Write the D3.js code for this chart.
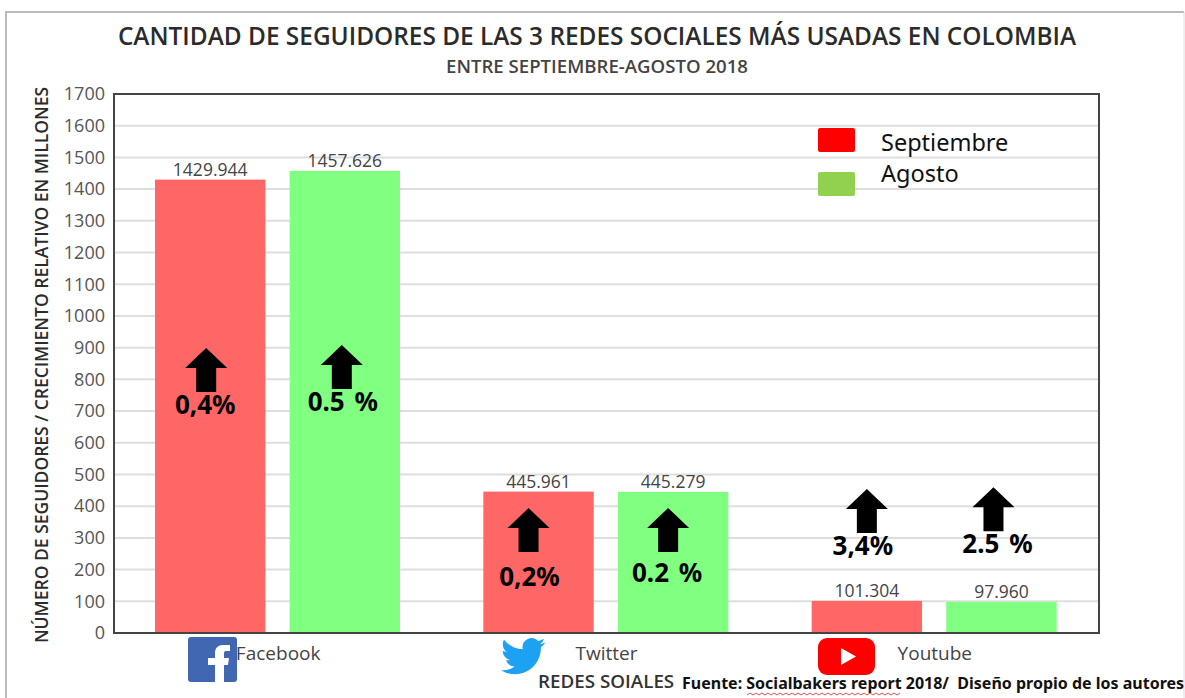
<!DOCTYPE html>
<html>
<head>
<meta charset="utf-8">
<script src="https://cdn.jsdelivr.net/npm/d3@7"></script>
<style>
  html, body { margin: 0; padding: 0; background: #fff; }
  svg { display: block; }
</style>
</head>
<body>
<div id="chart"></div>
<script>
// Data
var categories = ["Facebook", "Twitter", "Youtube"];
var seriesNames = ["Septiembre", "Agosto"];
var septiembre = [1429.944, 445.961, 101.304];
var agosto = [1457.626, 445.279, 97.96];
var septiembreLabels = ["1429.944", "445.961", "101.304"];
var agostoLabels = ["1457.626", "445.279", "97.960"];
var septiembreGrowth = ["0,4%", "0,2%", "3,4%"];
var agostoGrowth = ["0.5 %", "0.2 %", "2.5 %"];
// arrow tip, on the value axis
var septiembreArrowTip = [899, 394, 454];
var agostoArrowTip = [908, 394, 460];
var yTicks = d3.range(0, 1800, 100);

var W = 1185, H = 698;
var margin = { top: 94, right: 86, bottom: 65, left: 114 };
var width = W - margin.left - margin.right;
var height = H - margin.top - margin.bottom;

var colors = ["#ff6666", "#80ff80"];
var legendColors = ["#ff0000", "#92d050"];
var sans = "'Open Sans', 'Noto Sans', sans-serif";
var note = "'Noto Sans', 'Open Sans', sans-serif";

// The arrows and their labels were placed by hand in the original,
// so they sit a little off the bar centres
var arrowShift = [[-4, -10, 0], [-3, -5, -8]];
var growthShift = [[-5, -9, -4], [-2, -6, -4]];
var growthDrop = [[66, 78, 66], [66, 74, 66]];

var svg = d3.select("#chart").append("svg")
    .attr("width", W)
    .attr("height", H)
    .attr("font-family", sans);

// Outer picture frame: the right edge is paler than the other two
svg.append("path")
    .attr("d", "M6,698V12H1184")
    .attr("fill", "none")
    .attr("stroke", "#bbb")
    .attr("stroke-width", 2);
svg.append("path")
    .attr("d", "M1184,12V698")
    .attr("fill", "none")
    .attr("stroke", "#ddd")
    .attr("stroke-width", 1);

var g = svg.append("g")
    .attr("transform", "translate(" + margin.left + "," + margin.top + ")");

var x0 = d3.scaleBand().domain(categories).range([0, width]);
var x1 = d3.scaleBand().domain(seriesNames)
    .range([41, 286])
    .paddingInner(0.18);
var y = d3.scaleLinear().domain([0, 1700]).range([height, 0]);

// Gridlines
g.append("g").selectAll("line").data(yTicks.slice(1, -1)).enter().append("line")
    .attr("x1", 0).attr("x2", width)
    .attr("y1", function (d) { return y(d); })
    .attr("y2", function (d) { return y(d); })
    .attr("stroke", "#dedede")
    .attr("stroke-width", 2);

// Bars, labels and arrows, one group per series
var seriesData = [
    { name: seriesNames[0], values: septiembre, labels: septiembreLabels, growth: septiembreGrowth, tips: septiembreArrowTip, color: colors[0] },
    { name: seriesNames[1], values: agosto, labels: agostoLabels, growth: agostoGrowth, tips: agostoArrowTip, color: colors[1] }
];

seriesData.forEach(function (s, k) {
    var cx = function (i) { return x0(categories[i]) + x1(s.name) + x1.bandwidth() / 2; };

    g.append("g").selectAll("rect").data(s.values).enter().append("rect")
        .attr("x", function (d, i) { return x0(categories[i]) + x1(s.name); })
        .attr("y", function (d) { return y(d); })
        .attr("width", x1.bandwidth())
        .attr("height", function (d) { return height - y(d); })
        .attr("fill", s.color);

    g.append("g").selectAll("text").data(s.values).enter().append("text")
        .attr("x", function (d, i) { return cx(i); })
        .attr("y", function (d) { return y(d) - 4; })
        .attr("text-anchor", "middle")
        .attr("font-size", "17.5px")
        .attr("fill", "#444")
        .text(function (d, i) { return s.labels[i]; });

    // Up arrows
    g.append("g").selectAll("path").data(s.tips).enter().append("path")
        .attr("transform", function (d, i) { return "translate(" + (cx(i) + arrowShift[k][i]) + "," + y(d) + ")"; })
        .attr("d", "M0,0L21,20L10,20L10,44L-10,44L-10,20L-21,20Z")
        .attr("fill", "#000");

    g.append("g").selectAll("text").data(s.tips).enter().append("text")
        .attr("x", function (d, i) { return cx(i) + growthShift[k][i]; })
        .attr("y", function (d, i) { return y(d) + growthDrop[k][i]; })
        .attr("text-anchor", "middle")
        .attr("font-family", note)
        .attr("font-size", "26px")
        .attr("font-weight", 700)
        .attr("word-spacing", "3px")
        .attr("fill", "#000")
        .text(function (d, i) { return s.growth[i]; });
});

// Axes
var yAxis = g.append("g")
    .call(d3.axisLeft(y).tickValues(yTicks).tickFormat(d3.format("d")).tickSize(0).tickPadding(9));
yAxis.select(".domain").remove();
yAxis.selectAll("text").attr("font-size", "18px").attr("font-family", sans).attr("fill", "#555");

var xAxis = g.append("g")
    .attr("transform", "translate(0," + height + ")")
    .call(d3.axisBottom(x0).tickSize(0).tickPadding(14));
xAxis.select(".domain").remove();
xAxis.selectAll("text").attr("font-size", "19px").attr("font-family", sans).attr("fill", "#444");

g.append("rect")
    .attr("width", width).attr("height", height)
    .attr("fill", "none")
    .attr("stroke", "#444")
    .attr("stroke-width", 2);

// Titles
svg.append("text")
    .attr("x", 597).attr("y", 45)
    .attr("text-anchor", "middle")
    .attr("font-size", "24.4px")
    .attr("font-weight", 600)
    .attr("fill", "#2b2b2b")
    .text("CANTIDAD DE SEGUIDORES DE LAS 3 REDES SOCIALES MÁS USADAS EN COLOMBIA");

svg.append("text")
    .attr("x", 597).attr("y", 73)
    .attr("text-anchor", "middle")
    .attr("font-size", "18.6px")
    .attr("font-weight", 600)
    .attr("fill", "#444")
    .text("ENTRE SEPTIEMBRE-AGOSTO 2018");

svg.append("text")
    .attr("transform", "translate(48,365) rotate(-90)")
    .attr("text-anchor", "middle")
    .attr("font-size", "17.5px")
    .attr("font-weight", 600)
    .attr("fill", "#2b2b2b")
    .text("NÚMERO DE SEGUIDORES / CRECIMIENTO RELATIVO EN MILLONES");

svg.append("text")
    .attr("x", 538).attr("y", 688)
    .attr("font-size", "18.8px")
    .attr("font-weight", 600)
    .attr("fill", "#333")
    .text("REDES SOIALES");

svg.append("text")
    .attr("x", 682).attr("y", 689)
    .attr("font-family", note)
    .attr("font-size", "16px")
    .attr("font-weight", 700)
    .attr("fill", "#111")
    .style("white-space", "pre")
    .text("Fuente: Socialbakers report 2018/  Diseño propio de los autores");

// Spell-check squiggle under the source
svg.append("path")
    .attr("d", d3.range(747, 902, 3).map(function (px, i) {
        return (i ? "L" : "M") + px + "," + (i % 2 ? 693 : 695);
    }).join(""))
    .attr("fill", "none")
    .attr("stroke", "#e05050")
    .attr("stroke-width", 1);

// Legend
var legendY = d3.scaleBand().domain(seriesNames).range([128, 216]);
seriesNames.forEach(function (name, i) {
    svg.append("rect")
        .attr("x", 818).attr("y", legendY(name))
        .attr("width", 37).attr("height", 24).attr("rx", 2)
        .attr("fill", legendColors[i]);
});
svg.append("text").attr("x", 881).attr("y", 151)
    .attr("font-family", note).attr("font-size", "23.5px").attr("fill", "#111").text(seriesNames[0]);
svg.append("text").attr("x", 881).attr("y", 182)
    .attr("font-family", note).attr("font-size", "23.5px").attr("fill", "#111").text(seriesNames[1]);

// Network icons
var fb = svg.append("g").attr("transform", "translate(188,637)");
fb.append("rect").attr("width", 49).attr("height", 45).attr("rx", 3).attr("fill", "#4267b2");
fb.append("path").attr("fill", "#fff")
    .attr("d", "M27,45V28H20V21H27V16C27,11 30,8 35,8H42V14H38C36.5,14 36,15 36,16V21H41L40,28H36V45Z");

svg.append("path")
    .attr("transform", "translate(501,634) scale(1.85)")
    .attr("fill", "#1da1f2")
    .attr("d", "M23.953 4.57a10 10 0 01-2.825.775 4.958 4.958 0 002.163-2.723c-.951.555-2.005.959-3.127 1.184a4.92 4.92 0 00-8.384 4.482C7.69 8.095 4.067 6.13 1.64 3.162a4.822 4.822 0 00-.666 2.475c0 1.71.87 3.213 2.188 4.096a4.904 4.904 0 01-2.228-.616v.06a4.923 4.923 0 003.946 4.827 4.996 4.996 0 01-2.212.085 4.936 4.936 0 004.604 3.417 9.867 9.867 0 01-6.102 2.105c-.39 0-.779-.023-1.17-.067a13.995 13.995 0 007.557 2.209c9.053 0 13.998-7.496 13.998-13.985 0-.21 0-.42-.015-.63A9.935 9.935 0 0024 4.59z");

var yt = svg.append("g").attr("transform", "translate(818,638)");
yt.append("rect").attr("width", 57).attr("height", 37).attr("rx", 9).attr("fill", "#ff0000");
yt.append("path").attr("fill", "#fff").attr("d", "M23,10L38,18.5L23,27Z");
</script>
</body>
</html>
